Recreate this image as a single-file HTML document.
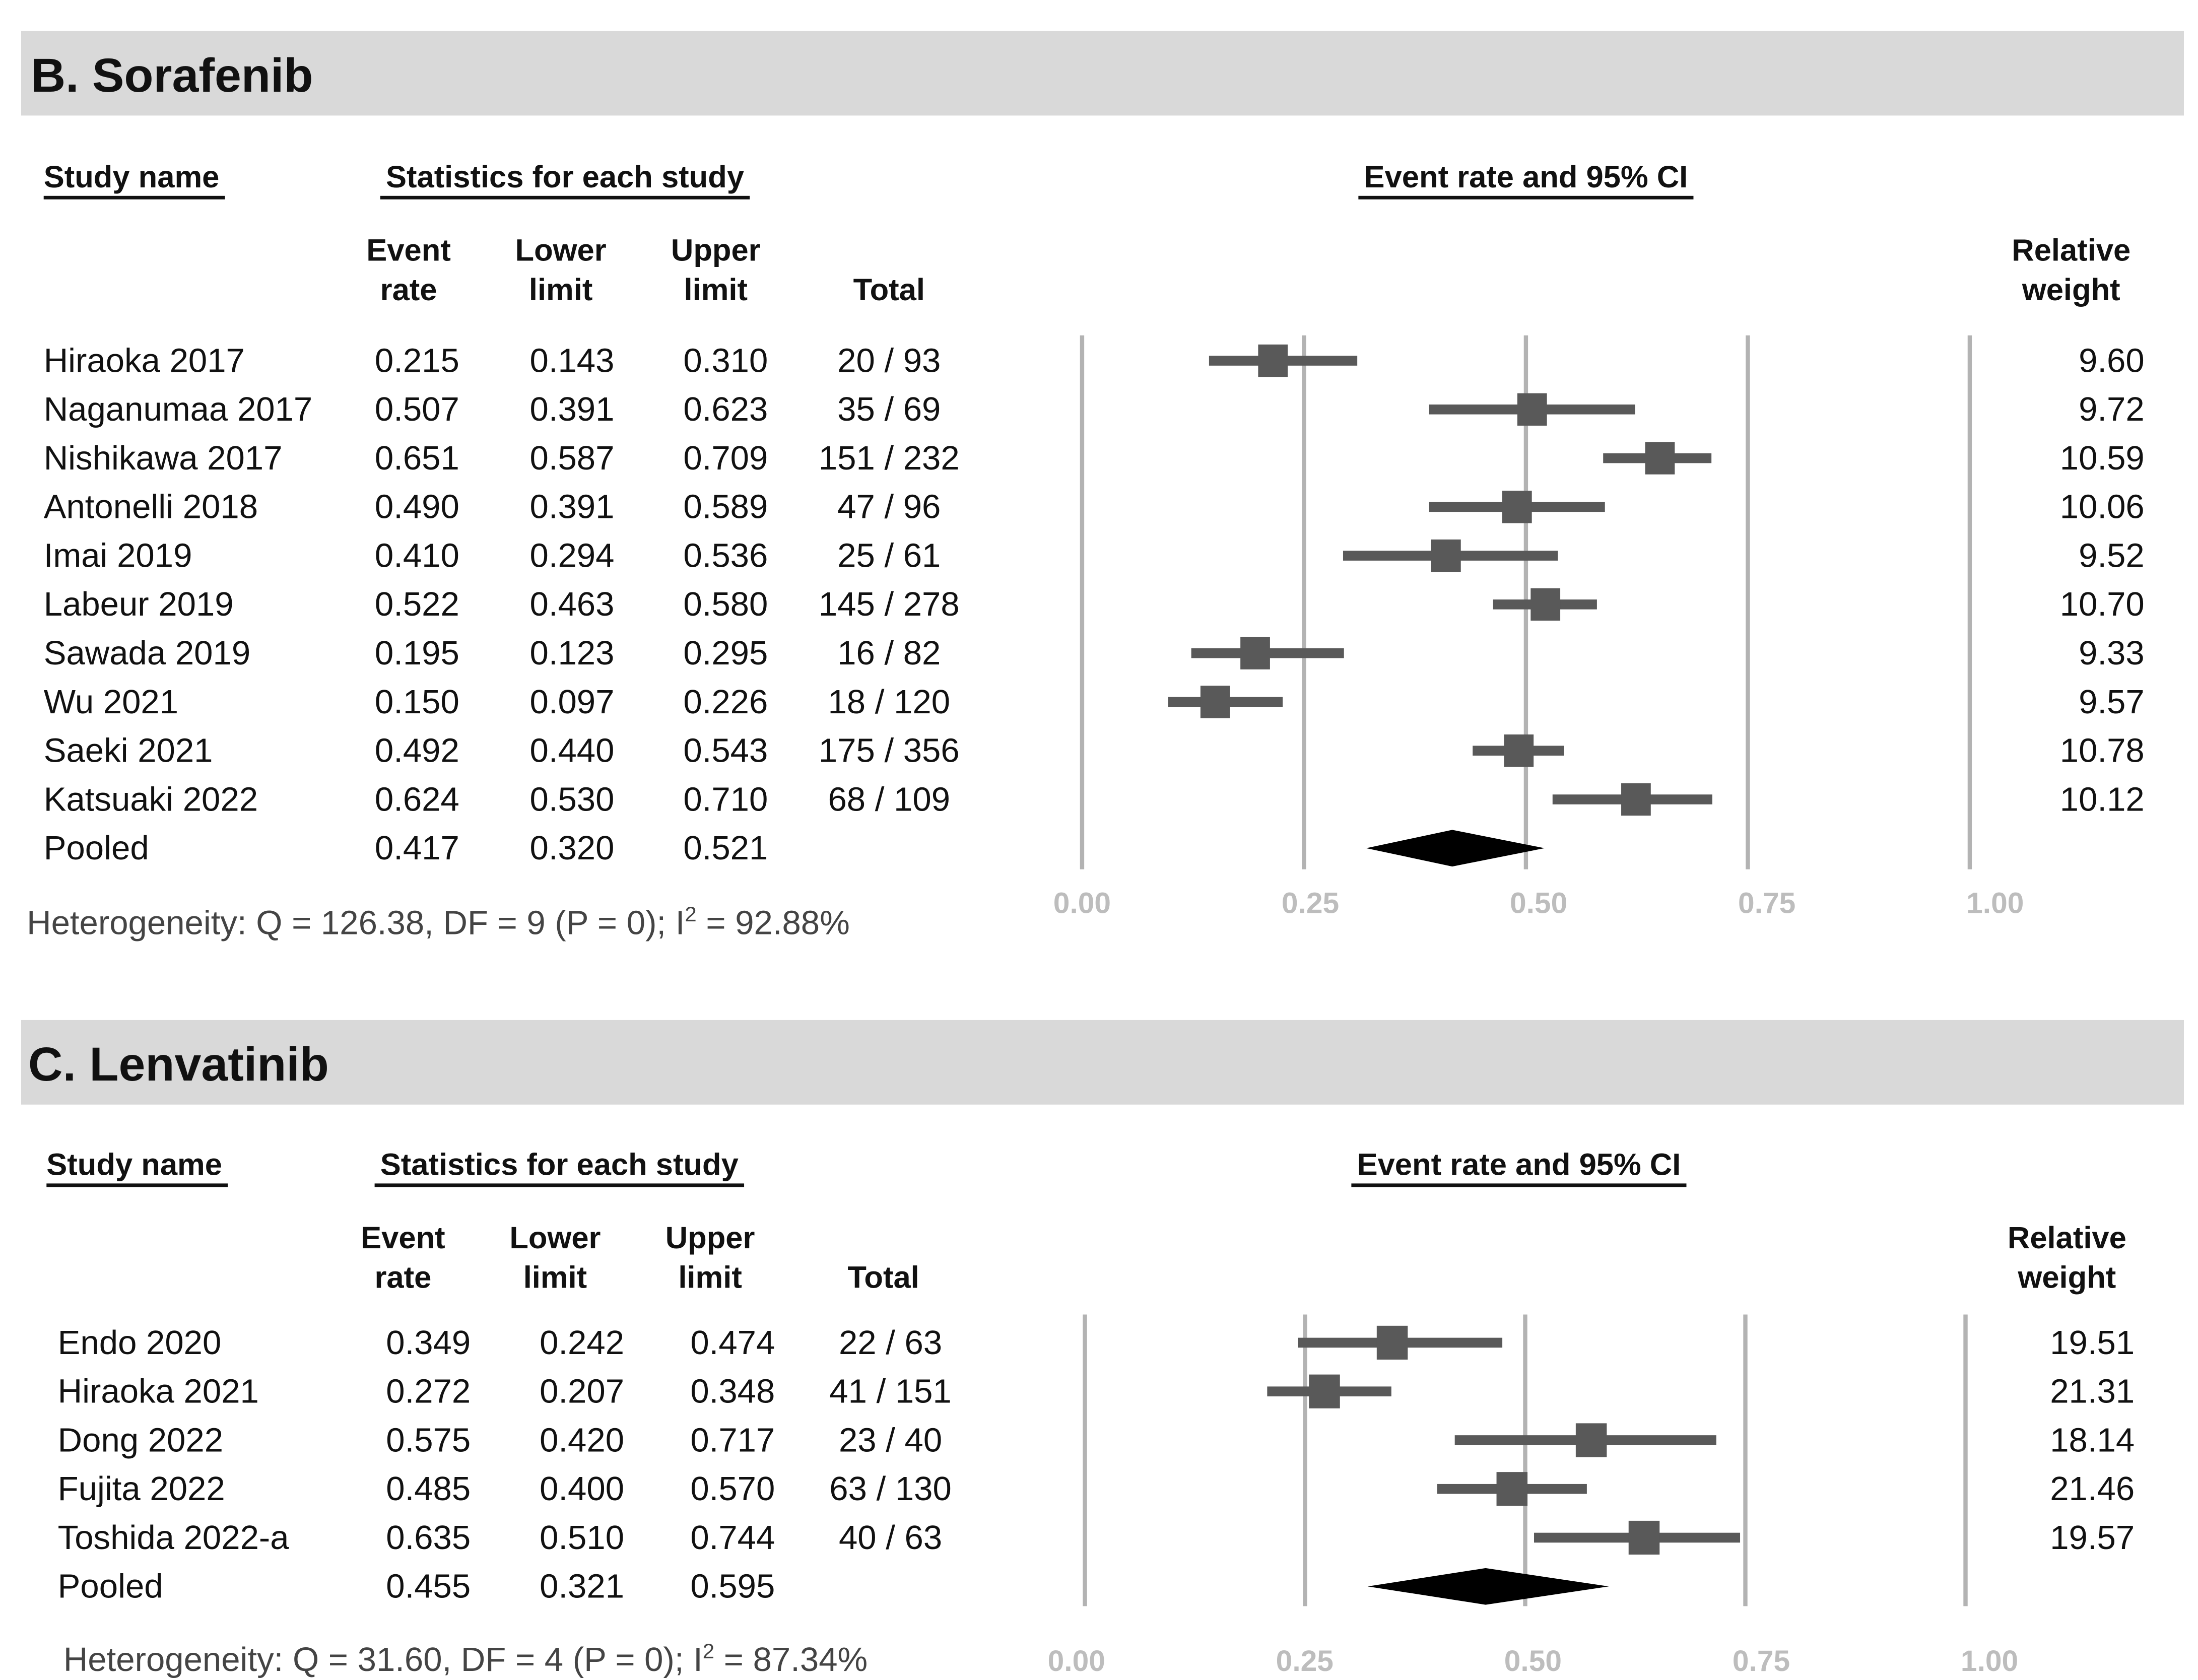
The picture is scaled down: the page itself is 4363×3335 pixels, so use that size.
<!DOCTYPE html>
<html><head><meta charset="utf-8"><style>
html,body{margin:0;padding:0;background:#fff;}
svg{display:block;font-family:"Liberation Sans",Arial,sans-serif;}
.t{font-size:24px;fill:#111;}
.h{font-size:22px;font-weight:bold;fill:#111;}
.tk{font-size:21px;font-weight:bold;fill:#bdbdbd;}
.het{font-size:24px;fill:#444;}
.title{font-size:34px;font-weight:bold;fill:#111;}
</style></head><body>
<svg id="chart" width="4363" height="3335" viewBox="0 0 1560 1192.4" xmlns="http://www.w3.org/2000/svg">
</svg>
<script>
// ---- Panel B data (Sorafenib) ----
const bStudies = ["Hiraoka 2017","Naganumaa 2017","Nishikawa 2017","Antonelli 2018","Imai 2019","Labeur 2019","Sawada 2019","Wu 2021","Saeki 2021","Katsuaki 2022"];
const bRate = [0.215,0.507,0.651,0.490,0.410,0.522,0.195,0.150,0.492,0.624];
const bLower = [0.143,0.391,0.587,0.391,0.294,0.463,0.123,0.097,0.440,0.530];
const bUpper = [0.310,0.623,0.709,0.589,0.536,0.580,0.295,0.226,0.543,0.710];
const bTotal = ["20 / 93","35 / 69","151 / 232","47 / 96","25 / 61","145 / 278","16 / 82","18 / 120","175 / 356","68 / 109"];
const bWeight = ["9.60","9.72","10.59","10.06","9.52","10.70","9.33","9.57","10.78","10.12"];
const bPooled = [0.417,0.320,0.521];
// ---- Panel C data (Lenvatinib) ----
const cStudies = ["Endo 2020","Hiraoka 2021","Dong 2022","Fujita 2022","Toshida 2022-a"];
const cRate = [0.349,0.272,0.575,0.485,0.635];
const cLower = [0.242,0.207,0.420,0.400,0.510];
const cUpper = [0.474,0.348,0.717,0.570,0.744];
const cTotal = ["22 / 63","41 / 151","23 / 40","63 / 130","40 / 63"];
const cWeight = ["19.51","21.31","18.14","21.46","19.57"];
const cPooled = [0.455,0.321,0.595];
const tickVals = [0,0.25,0.5,0.75,1];
const tickLabels = ["0.00","0.25","0.50","0.75","1.00"];

const svg = document.getElementById('chart');
const NS = "http://www.w3.org/2000/svg";
function mk(tag, attrs, parent){const e=document.createElementNS(NS,tag);for(const k in attrs)e.setAttribute(k,attrs[k]);(parent||svg).appendChild(e);return e;}
function txt(s,x,y,cls,anchor,parent){const e=mk('text',{x:x,y:y,class:cls,'text-anchor':anchor||'start'},parent);e.textContent=s;return e;}

function panel(cfg){
  const g=mk('g',{});
  
  
  const band=mk('rect',{x:15,y:cfg.top,width:1535,height:60,fill:'#d9d9d9'},g);
  
  
  const tt=txt(cfg.title,cfg.titleX,cfg.top+43,'title','start',g);
  
  
  const hy=cfg.top+cfg.hdrOff;
  [[cfg.studyX,'Study name','start','study-name-header'],[cfg.statC,'Statistics for each study','middle','statistics-header'],[cfg.ciC,'Event rate and 95% CI','middle','event-rate-ci-header']].forEach(function(h){
    const e=txt(h[1],h[0],hy,'h',h[2],g);
    
    
    const w=e.getComputedTextLength();
    const x0=h[2]==='middle'?h[0]-w/2-4:h[0];
    mk('rect',{x:x0,y:hy+6,width:w+(h[2]==='middle'?8:4),height:2.5,fill:'#111'},g);
  });
  const c1=hy+cfg.colOff1, c2=c1+28;
  [[cfg.colX[0],'Event','rate'],[cfg.colX[1],'Lower','limit'],[cfg.colX[2],'Upper','limit']].forEach(function(c){
    const a=txt(c[1],c[0],c1,'h','middle',g);
    txt(c[2],c[0],c2,'h','middle',g);
  });
  const tot=txt('Total',cfg.colX[3],c2,'h','middle',g);
  
  const rw=txt('Relative',cfg.wC,c1,'h','middle',g);
  
  txt('weight',cfg.wC,c2,'h','middle',g);
  const xs=v=>cfg.x0+v*cfg.unit;
  tickVals.forEach(function(v,i){
    const l=mk('line',{x1:xs(v),x2:xs(v),y1:cfg.gTop,y2:cfg.gBot,stroke:'#b3b3b3','stroke-width':3},g);
    
    
    const t=txt(tickLabels[i],cfg.tickX0+i*cfg.tickStep,cfg.tickY,'tk','middle',g);
    
    
  });
  const ry=i=>cfg.row0+i*cfg.rowH;
  cfg.studies.forEach(function(s,i){
    const y=ry(i);
    const n=txt(s,cfg.nameX,y+8,'t','start',g);
    [cfg.rate[i],cfg.lower[i],cfg.upper[i]].forEach(function(v,j){
      const e=txt(v.toFixed(3),cfg.numX[j],y+8,'t','middle',g);
      
      
    });
    const tt2=txt(cfg.total[i],cfg.numX[3],y+8,'t','middle',g);
    const w=txt(cfg.weight[i],cfg.wR,y+8,'t','end',g);
    const ci=mk('rect',{x:xs(cfg.lower[i]),y:y-3.5,width:xs(cfg.upper[i])-xs(cfg.lower[i]),height:7,fill:'#595959'},g);
    
    
    const sz=cfg.box;
    const m=mk('rect',{x:xs(cfg.rate[i])-sz/2,y:y-sz/2-1,width:sz,height:sz+2,fill:'#595959'},g);
    
    
  });
  const py=ry(cfg.studies.length);
  const pn=txt('Pooled',cfg.nameX,py+8,'t','start',g);
  cfg.pooled.forEach(function(v,j){const e=txt(v.toFixed(3),cfg.numX[j],py+8,'t','middle',g);});
  const d=mk('polygon',{points:[xs(cfg.pooled[1])+','+py,xs(cfg.pooled[0])+','+(py-13),xs(cfg.pooled[2])+','+py,xs(cfg.pooled[0])+','+(py+13)].join(' '),fill:'#000'},g);
  
  
  const h=txt(cfg.het,cfg.hetX,cfg.hetY,'het','start',g);
  
  
  h.innerHTML=cfg.het.replace('I2','I<tspan font-size="15" dy="-9">2</tspan><tspan dy="9"> </tspan>');
}

panel({name:'panel-b-sorafenib',title:'B. Sorafenib',titleX:22,top:22,hdrOff:111,studyX:31,statC:401,ciC:1083,
  colOff1:52,colX:[290,398,508,631],wC:1470,x0:768,unit:630,gTop:238,gBot:617,tickX0:768,tickStep:162,tickY:648,
  row0:256,rowH:34.6,nameX:31,numX:[296,406,515,631],wR:1522,box:21,
  studies:bStudies,rate:bRate,lower:bLower,upper:bUpper,total:bTotal,weight:bWeight,pooled:bPooled,
  het:'Heterogeneity: Q = 126.38, DF = 9 (P = 0); I2= 92.88%',hetX:19,hetY:663});
panel({name:'panel-c-lenvatinib',title:'C. Lenvatinib',titleX:20,top:724,hdrOff:110,studyX:33,statC:397,ciC:1078,
  colOff1:52,colX:[286,394,504,627],wC:1467,x0:770,unit:625,gTop:933,gBot:1140,tickX0:764,tickStep:162,tickY:1186,
  row0:953,rowH:34.6,nameX:41,numX:[304,413,520,632],wR:1515,box:22,
  studies:cStudies,rate:cRate,lower:cLower,upper:cUpper,total:cTotal,weight:cWeight,pooled:cPooled,
  het:'Heterogeneity: Q = 31.60, DF = 4 (P = 0); I2= 87.34%',hetX:45,hetY:1186});
</script>
</body></html>
